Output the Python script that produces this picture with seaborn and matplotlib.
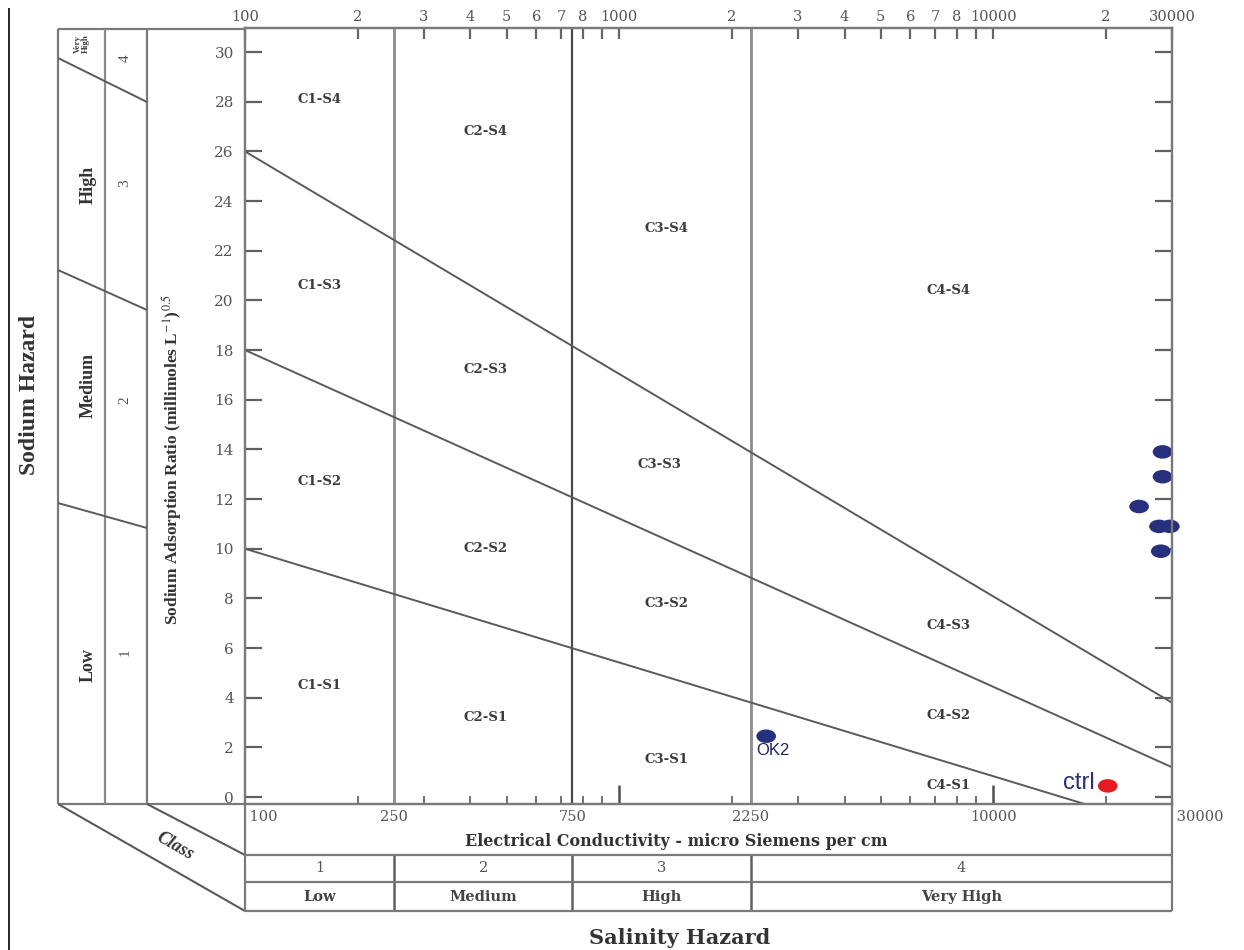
import numpy as np
import pandas as pd
import matplotlib
matplotlib.use("Agg")
import matplotlib.pyplot as plt
import seaborn as sns
from matplotlib.path import Path
from matplotlib.lines import Line2D
from matplotlib.transforms import Affine2D, blended_transform_factory
from matplotlib.ticker import FixedLocator, FixedFormatter, NullFormatter, NullLocator

# ------------------------------------------------------------------ data
ec_limits = [100, 30000]                 # EC axis range (micro S/cm)
sar_s1_s2 = [10.0, -1.35]                # SAR boundary values at the two EC limits
sar_s2_s3 = [18.0, 1.2]
sar_s3_s4 = [26.0, 3.8]
salinity_class_limits = [250, 750, 2250]

zone_names = ["C1-S4", "C2-S4", "C3-S4", "C4-S4",
              "C1-S3", "C2-S3", "C3-S3", "C4-S3",
              "C1-S2", "C2-S2", "C3-S2", "C4-S2",
              "C1-S1", "C2-S1", "C3-S1", "C4-S1"]
zone_ec = [158, 440, 1340, 7600,
           158, 440, 1280, 7600,
           158, 440, 1340, 7600,
           158, 440, 1340, 7600]
zone_sar = [28.1, 26.8, 22.9, 20.4,
            20.6, 17.2, 13.4, 6.9,
            12.7, 10.0, 7.8, 3.3,
            4.5, 3.2, 1.5, 0.45]

sample_names = ["OK2", "ctrl", "W1", "W2", "W3", "W4", "W5", "W6"]
sample_ec = [2470, 20200, 28300, 28300, 24500, 27700, 29600, 28000]
sample_sar = [2.45, 0.45, 13.9, 12.9, 11.7, 10.9, 10.9, 9.9]
sample_group = ["sample", "ctrl", "sample", "sample", "sample", "sample", "sample", "sample"]

sar_ticks = list(range(0, 31, 2))
top_tick_values = [100, 200, 300, 400, 500, 600, 700, 800, 900,
                   1000, 2000, 3000, 4000, 5000, 6000, 7000, 8000, 9000,
                   10000, 20000, 30000]
top_tick_labels = ["100", "2", "3", "4", "5", "6", "7", "8", "",
                   "1000", "2", "3", "4", "5", "6", "7", "8", "",
                   "10000", "2", "30000"]
bottom_minor_ticks = [200, 300, 400, 500, 600, 700, 800, 900,
                      2000, 3000, 4000, 5000, 6000, 7000, 8000, 9000, 20000]
bottom_major_ticks = [1000, 10000]
bottom_labels_values = [100, 250, 750, 2250, 10000, 30000]
bottom_labels_text = ["100", "250", "750", "2250", "10000", "30000"]

class_numbers = ["1", "2", "3", "4"]
class_names = ["Low", "Medium", "High", "Very High"]
sodium_numbers = ["4", "3", "2", "1"]
sodium_names = ["High", "Medium", "Low"]

# ------------------------------------------------------------------ style
sns.set_theme(style="white")
plt.rcParams["font.family"] = ["DejaVu Serif"]
plt.rcParams["mathtext.fontset"] = "stix"

LINE = "#5a5a5a"
FRAME = "#7a7a7a"
TXT = "#555555"

W, H = 1244, 950
fig = plt.figure(figsize=(W / 100, H / 100), dpi=100)
fig.patch.set_facecolor("white")

ov = fig.add_axes([0, 0, 1, 1])
ov.axis("off")

px_left, px_right, px_top, px_bottom = 245, 1172, 28, 804
ax = fig.add_axes([px_left / W, 1 - px_bottom / H,
                   (px_right - px_left) / W, (px_bottom - px_top) / H])
ax.set_facecolor("none")
ax.set_xscale("log")
ax.set_xlim(ec_limits[0], ec_limits[1])
ax.set_ylim(-0.28, 30.97)

# sodium hazard boundaries
bdf = pd.DataFrame({
    "ec": ec_limits * 3,
    "sar": sar_s1_s2 + sar_s2_s3 + sar_s3_s4,
    "boundary": ["S1/S2"] * 2 + ["S2/S3"] * 2 + ["S3/S4"] * 2,
})
sns.lineplot(data=bdf, x="ec", y="sar", units="boundary", estimator=None,
             color=LINE, lw=1.4, ax=ax, legend=False)

# salinity class boundaries
vcolors = ["#8c8c8c", "#4a4a4a", "#8c8c8c"]
vwidths = [2.0, 1.6, 2.0]
for v, c, w in zip(salinity_class_limits, vcolors, vwidths):
    ax.axvline(v, color=c, lw=w, zorder=1)

# zone labels
for n, x, y in zip(zone_names, zone_ec, zone_sar):
    ax.text(x, y, n, ha="center", va="center", fontsize=9.5, fontweight="bold",
            color="#3c3c3c")

# samples
ell = Path.unit_circle().transformed(Affine2D().scale(1.45, 1.0))
sdf = pd.DataFrame({"ec": sample_ec, "sar": sample_sar, "group": sample_group,
                    "name": sample_names})
sns.scatterplot(data=sdf, x="ec", y="sar", hue="group",
                palette={"sample": "#27307c", "ctrl": "#e41b23"},
                marker=ell, s=200, linewidth=0, legend=False, ax=ax,
                clip_on=False, zorder=5)
for _, r in sdf.iterrows():
    if r["name"] == "OK2":
        ax.annotate(r["name"], (r["ec"], r["sar"]), xytext=(5, -10),
                    textcoords="offset points", ha="center", va="center",
                    fontfamily="Liberation Sans", fontsize=12, color="#1e2560")
    elif r["name"] == "ctrl":
        ax.annotate(r["name"], (r["ec"], r["sar"]), xytext=(-9, 2),
                    textcoords="offset points", ha="right", va="center",
                    fontfamily="Liberation Sans", fontsize=17, color="#2a2f6e")

# axes styling
ax.set_xlabel("")
ax.set_ylabel("")
for s in ax.spines.values():
    s.set_color(FRAME)
    s.set_linewidth(1.6)
ax.xaxis.set_major_locator(FixedLocator(bottom_major_ticks))
ax.xaxis.set_minor_locator(FixedLocator(bottom_minor_ticks))
ax.xaxis.set_major_formatter(NullFormatter())
ax.xaxis.set_minor_formatter(NullFormatter())
ax.tick_params(axis="x", which="major", direction="in", length=14, width=1.8,
               color="#505050", bottom=True, top=False)
ax.tick_params(axis="x", which="minor", direction="in", length=6, width=1.4,
               color="#707070", bottom=True, top=False)
ax.yaxis.set_major_locator(FixedLocator(sar_ticks))
ax.yaxis.set_major_formatter(FixedFormatter([str(t) for t in sar_ticks]))
ax.yaxis.set_minor_locator(NullLocator())
ax.tick_params(axis="y", which="major", direction="in", length=12, width=1.6,
               color="#606060", left=True, right=True, labelleft=True,
               labelright=False, labelsize=11, labelcolor=TXT, pad=8)

axt = ax.twiny()
axt.set_xscale("log")
axt.set_xlim(ax.get_xlim())
axt.set_facecolor("none")
for s in axt.spines.values():
    s.set_color(FRAME)
    s.set_linewidth(1.6)
axt.xaxis.set_major_locator(FixedLocator(top_tick_values))
axt.xaxis.set_major_formatter(FixedFormatter(top_tick_labels))
axt.xaxis.set_minor_locator(FixedLocator([1000, 10000]))
axt.xaxis.set_minor_formatter(NullFormatter())
axt.tick_params(axis="x", which="major", direction="in", length=8, width=1.6,
                color="#666666", top=True, bottom=False, labelsize=10.5,
                labelcolor=TXT, pad=3)
axt.tick_params(axis="x", which="minor", direction="in", length=17, width=1.8,
                color="#505050", top=True, bottom=False)

# ------------------------------------------------------------------ frame / panels (pixel overlay)
bt = blended_transform_factory(ax.transData, ov.transData)


def seg(x0, y0, x1, y1, color=FRAME, lw=1.6, transform=None):
    ov.add_line(Line2D([x0, x1], [y0, y1], color=color, lw=lw,
                       transform=transform if transform is not None else ov.transData,
                       clip_on=False, solid_capstyle="butt"))


# left image border line
seg(9, 8, 9, 950, color="black", lw=1.2)

# sodium hazard panel
seg(58, 29, 245, 29)
seg(58, 804, 245, 804)
for xv, c in [(58, FRAME), (105, "#8a8a8a"), (147, FRAME)]:
    seg(xv, 29, xv, 804, color=c)
seg(58, 58, 147, 102, color=LINE, lw=1.4)
seg(58, 270, 147, 310, color=LINE, lw=1.4)
seg(58, 503, 147, 528, color=LINE, lw=1.4)
seg(58, 804, 245, 911, color=LINE, lw=1.5)
seg(147, 804, 245, 855, color=LINE, lw=1.5)

# salinity class table
edges = [ec_limits[0]] + salinity_class_limits + [ec_limits[1]]
seg(ec_limits[0], 804, ec_limits[0], 911, transform=bt)
seg(ec_limits[1], 804, ec_limits[1], 911, transform=bt)
for e in salinity_class_limits:
    seg(e, 855, e, 911, color="#606060", lw=1.8, transform=bt)
for yy in (855, 882, 911):
    seg(ec_limits[0], yy, ec_limits[1], yy, transform=bt)

centers = [np.sqrt(a * b) for a, b in zip(edges[:-1], edges[1:])]
for c, num, nm in zip(centers, class_numbers, class_names):
    ov.text(c, 868, num, transform=bt, ha="center", va="center",
            fontsize=10.5, color=TXT)
    ov.text(c, 897, nm, transform=bt, ha="center", va="center",
            fontsize=10.5, fontweight="bold", color="#444444")

# bottom EC labels
for v, t in zip(bottom_labels_values, bottom_labels_text):
    if v == ec_limits[0] or v == ec_limits[1]:
        ov.text(v, 817, " " + t, transform=bt, ha="left", va="center",
                fontsize=10.5, color=TXT)
    else:
        ov.text(v, 817, t, transform=bt, ha="center", va="center",
                fontsize=10.5, color=TXT)

ov.text(676, 842, "Electrical Conductivity - micro Siemens per cm",
        ha="center", va="center", fontsize=11.5, fontweight="bold", color="#333333")
ov.text(680, 938, "Salinity Hazard", ha="center", va="center", fontsize=15,
        fontweight="bold", color="#333333")

# sodium hazard texts
ov.text(30, 395, "Sodium Hazard", rotation=90, ha="center", va="center",
        fontfamily="Liberation Serif", fontsize=17, fontweight="bold", color="#333333")
ov.text(82, 44, "Very\nHigh", rotation=90, ha="center", va="center",
        fontfamily="Liberation Serif", fontsize=6.5, fontweight="bold",
        color="#444444", linespacing=1.0)
for t, y in zip(sodium_names, [185, 385, 665]):
    ov.text(88, y, t, rotation=90, ha="center", va="center",
            fontfamily="Liberation Serif", fontsize=13, fontweight="bold",
            color="#333333")
for t, y in zip(sodium_numbers, [58, 183, 400, 652]):
    ov.text(125, y, t, rotation=90, ha="center", va="center",
            fontfamily="Liberation Serif", fontsize=11, color=TXT)
ov.text(172, 460, r"Sodium Adsorption Ratio (millimoles L$^{-1}$)$^{0.5}$",
        rotation=90, ha="center", va="center", fontfamily="Liberation Serif",
        fontsize=12.5, fontweight="bold", color="#333333")
ov.text(175, 846, "Class", rotation=-30, ha="center", va="center",
        fontfamily="Liberation Serif", fontsize=13, fontweight="bold",
        fontstyle="italic", color="#333333")

ov.set_xlim(0, W)
ov.set_ylim(H, 0)

fig.savefig("out.png", dpi=100, facecolor="white")
